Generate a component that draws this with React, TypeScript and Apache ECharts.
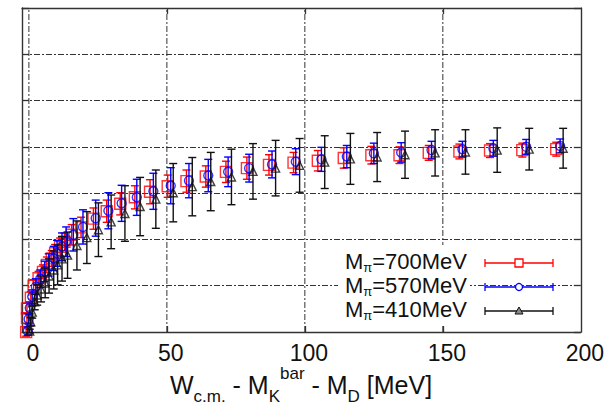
import React, { useEffect, useRef } from "react";
import * as echarts from "echarts";

// x-axis tick labels
const xTickValues = [0, 50, 100, 150, 200];
const xGridValues = [0, 50, 100, 150];

// M_pi = 700 MeV (red squares)
const x700 = [-1.0, -0.7, -0.7, 0.7, 1.7, 3.5, 5.1, 6.5, 8.3, 9.5, 11.3, 12.9, 15.5, 18.9, 23.4, 28.2, 33.1, 38.4, 43.9, 50.3, 57.1, 64.1, 71.4, 79.0, 87.0, 95.9, 104.7, 114.1, 124.1, 134.3, 144.9, 156.0, 167.1, 178.8, 191.1];
const y700 = [0.0, 0.3, 0.51, 0.74, 1.0, 1.16, 1.3, 1.45, 1.59, 1.7, 1.84, 1.95, 2.1, 2.26, 2.45, 2.61, 2.77, 2.91, 3.03, 3.15, 3.26, 3.36, 3.46, 3.54, 3.61, 3.66, 3.7, 3.76, 3.82, 3.82, 3.87, 3.9, 3.92, 3.93, 3.95];
const e700 = [0.09, 0.11, 0.11, 0.13, 0.13, 0.15, 0.15, 0.17, 0.17, 0.19, 0.19, 0.19, 0.22, 0.22, 0.23, 0.24, 0.24, 0.25, 0.26, 0.24, 0.24, 0.23, 0.23, 0.24, 0.22, 0.22, 0.22, 0.22, 0.19, 0.18, 0.16, 0.16, 0.15, 0.15, 0.15];

// M_pi = 570 MeV (blue circles)
const x570 = [-0.4, -0.1, 0.3, 1.2, 2.5, 4.1, 5.7, 7.2, 9.0, 10.2, 12.0, 13.5, 16.1, 19.6, 24.2, 28.8, 33.6, 39.1, 45.1, 51.4, 58.0, 65.0, 72.2, 79.8, 88.1, 96.7, 106.0, 115.2, 125.0, 134.9, 145.9, 157.1, 168.3, 180.2, 192.5];
const y570 = [0.02, 0.28, 0.52, 0.76, 0.98, 1.15, 1.31, 1.45, 1.59, 1.7, 1.84, 1.95, 2.1, 2.27, 2.46, 2.62, 2.78, 2.91, 3.04, 3.16, 3.27, 3.38, 3.46, 3.54, 3.62, 3.68, 3.73, 3.79, 3.86, 3.88, 3.93, 3.95, 3.97, 4.0, 4.02];
const e570 = [0.09, 0.11, 0.13, 0.15, 0.17, 0.19, 0.22, 0.24, 0.26, 0.28, 0.3, 0.32, 0.35, 0.37, 0.39, 0.39, 0.39, 0.39, 0.39, 0.39, 0.37, 0.35, 0.32, 0.3, 0.29, 0.28, 0.26, 0.24, 0.22, 0.21, 0.19, 0.17, 0.17, 0.16, 0.15];

// M_pi = 410 MeV (black triangles)
const x410 = [0.3, 0.65, 1.2, 2.1, 3.0, 4.4, 5.9, 7.3, 9.0, 10.4, 12.0, 14.0, 17.4, 21.0, 25.2, 29.8, 34.8, 40.3, 46.0, 52.3, 59.2, 65.9, 73.4, 81.2, 89.4, 98.1, 107.2, 116.5, 126.2, 136.3, 147.2, 158.2, 169.7, 181.3, 193.6];
const y410 = [0.02, 0.22, 0.43, 0.65, 0.8, 0.93, 1.06, 1.21, 1.34, 1.45, 1.58, 1.66, 1.87, 2.04, 2.21, 2.38, 2.56, 2.71, 2.87, 3.01, 3.14, 3.25, 3.35, 3.47, 3.54, 3.6, 3.67, 3.74, 3.78, 3.83, 3.87, 3.89, 3.93, 3.95, 3.97];
const e410 = [0.04, 0.09, 0.13, 0.17, 0.22, 0.28, 0.32, 0.37, 0.41, 0.43, 0.48, 0.5, 0.53, 0.56, 0.58, 0.58, 0.6, 0.63, 0.63, 0.63, 0.63, 0.63, 0.6, 0.6, 0.6, 0.58, 0.57, 0.55, 0.53, 0.51, 0.5, 0.48, 0.48, 0.45, 0.43];

const legendLabels = ["700MeV", "570MeV", "410MeV"];
const RED = "#ff0000";
const BLUE = "#0000ff";
const BLACK = "#111111";
const FONT = "'Liberation Sans', Arial, Helvetica, sans-serif";
const GRID_DASH = [6, 2, 2, 2];

const errRender = (color: string) => (params: any, api: any) => {
  const x = api.value(0);
  const y = api.value(1);
  const e = api.value(2);
  const top = api.coord([x, y + e]);
  const bot = api.coord([x, y - e]);
  const cw = 4;
  const style = { stroke: color, lineWidth: 1.4, fill: null };
  return {
    type: "group",
    children: [
      { type: "line", shape: { x1: top[0], y1: top[1], x2: bot[0], y2: bot[1] }, style },
      { type: "line", shape: { x1: top[0] - cw, y1: top[1], x2: top[0] + cw, y2: top[1] }, style },
      { type: "line", shape: { x1: bot[0] - cw, y1: bot[1], x2: bot[0] + cw, y2: bot[1] }, style },
    ],
  };
};

const zip3 = (xs: number[], ys: number[], es: number[]) => xs.map((x, i) => [x, ys[i], es[i]]);

export default function App() {
  const ref = useRef<HTMLDivElement>(null);
  useEffect(() => {
    if (!ref.current) return;
    const chart = echarts.init(ref.current, undefined, { renderer: "svg" });

    const sets = [
      { xs: x700, ys: y700, es: e700, color: RED, symbol: "rect", size: 11 },
      { xs: x570, ys: y570, es: e570, color: BLUE, symbol: "circle", size: 9 },
      { xs: x410, ys: y410, es: e410, color: BLACK, symbol: "triangle", size: 8 },
    ];

    const series: any[] = [
      {
        type: "custom",
        z: 1,
        silent: true,
        data: xGridValues.map((v) => [v]),
        renderItem: (params: any, api: any) => {
          const v = api.value(0);
          const a = api.coord([v, 0]);
          const b = api.coord([v, 7]);
          return {
            type: "line",
            shape: { x1: a[0], y1: a[1], x2: b[0], y2: b[1] },
            style: { stroke: "#333", lineWidth: 1, lineDash: GRID_DASH, fill: null },
          };
        },
      },
    ];
    sets.forEach((s, i) => {
      series.push({
        type: "custom",
        z: 3 + i * 2,
        silent: true,
        data: zip3(s.xs, s.ys, s.es),
        encode: { x: 0, y: 1 },
        renderItem: errRender(s.color),
      });
      series.push({
        type: "scatter",
        z: 4 + i * 2,
        silent: true,
        symbol: s.symbol,
        symbolSize: s.size,
        data: s.xs.map((x, k) => [x, s.ys[k]]),
        itemStyle: { color: "rgba(0,0,0,0)", borderColor: s.color, borderWidth: 1.4 },
      });
    });

    const legendY = [263, 287, 311];
    const lx1 = 485;
    const lx2 = 553;
    const lmid = (lx1 + lx2) / 2;
    const graphics: any[] = [
      {
        type: "rect",
        z: 20,
        shape: { x: 338, y: 245, width: 132, height: 80 },
        style: { fill: "#fff" },
      },
    ];
    sets.forEach((s, i) => {
      const y = legendY[i];
      graphics.push({
        type: "text",
        z: 21,
        x: 467,
        y: y - 2,
        style: {
          text: `{m|M}{s|π}{m|=${legendLabels[i]}}`,
          align: "right",
          verticalAlign: "middle",
          fill: "#111",
          rich: {
            m: { fontSize: 22, fontFamily: FONT, lineHeight: 25, verticalAlign: "middle", fill: "#111" },
            s: { fontSize: 13, fontFamily: FONT, lineHeight: 13, verticalAlign: "bottom", fill: "#111" },
          },
        },
      });
      const st = { stroke: s.color, lineWidth: 1.3 };
      graphics.push({ type: "line", z: 21, shape: { x1: lx1, y1: y, x2: lx2, y2: y }, style: st });
      graphics.push({ type: "line", z: 21, shape: { x1: lx1, y1: y - 4, x2: lx1, y2: y + 4 }, style: st });
      graphics.push({ type: "line", z: 21, shape: { x1: lx2, y1: y - 4, x2: lx2, y2: y + 4 }, style: st });
      if (s.symbol === "rect") {
        graphics.push({ type: "rect", z: 22, shape: { x: lmid - 4, y: y - 4, width: 8, height: 8 }, style: { fill: "#fff", stroke: s.color, lineWidth: 1.3 } });
      } else if (s.symbol === "circle") {
        graphics.push({ type: "circle", z: 22, shape: { cx: lmid, cy: y, r: 3.5 }, style: { fill: "#fff", stroke: s.color, lineWidth: 1.3 } });
      } else {
        graphics.push({ type: "polygon", z: 22, shape: { points: [[lmid, y - 4], [lmid - 4, y + 3], [lmid + 4, y + 3]] }, style: { fill: "#888", stroke: s.color, lineWidth: 1 } });
      }
    });
    graphics.push({
      type: "text",
      z: 21,
      x: 301,
      y: 385,
      style: {
        text: "{m|W}{s|c.m.}{m| - M}{s|K}{p|bar}{m| - M}{s|D}{m| [MeV]}",
        align: "center",
        verticalAlign: "middle",
        fill: "#111",
        rich: {
          m: { fontSize: 25, fontFamily: FONT, lineHeight: 40, verticalAlign: "middle", fill: "#111" },
          s: { fontSize: 17, fontFamily: FONT, lineHeight: 17, verticalAlign: "bottom", fill: "#111" },
          p: { fontSize: 17, fontFamily: FONT, lineHeight: 17, verticalAlign: "top", fill: "#111" },
        },
      },
    });

    const axisLine = { show: true, lineStyle: { color: "#333", width: 1.4 } };

    chart.setOption({
      animation: false,
      backgroundColor: "#fff",
      grid: { left: 22, right: 25, top: 8, bottom: 77, containLabel: false },
      xAxis: [
        {
          type: "value",
          position: "bottom",
          min: -2.5,
          max: 200,
          axisLine: { ...axisLine, onZero: false },
          axisTick: { show: true, inside: true, length: 6, customValues: [50, 100, 150], lineStyle: { color: "#333", width: 1.3 } },
          axisLabel: {
            show: true,
            customValues: xTickValues,
            fontSize: 23,
            fontFamily: FONT,
            color: "#111",
            margin: 9,
            padding: [0, 0, 0, 8],
          },
          splitLine: { show: false },
        },
        {
          type: "value",
          position: "top",
          min: -2.5,
          max: 200,
          axisLine: { ...axisLine, onZero: false },
          axisTick: { show: true, inside: true, length: 6, customValues: [50, 100, 150], lineStyle: { color: "#333", width: 1.3 } },
          axisLabel: { show: false },
          splitLine: { show: false },
        },
      ],
      yAxis: [
        {
          type: "value",
          position: "left",
          min: 0,
          max: 7,
          interval: 1,
          axisLine: { ...axisLine, onZero: false },
          axisTick: { show: true, inside: true, length: 7, lineStyle: { color: "#333", width: 1.3 } },
          axisLabel: { show: false },
          splitLine: { show: true, lineStyle: { color: "#333", width: 1, type: GRID_DASH } },
        },
        {
          type: "value",
          position: "right",
          min: 0,
          max: 7,
          interval: 1,
          axisLine: { ...axisLine, onZero: false },
          axisTick: { show: true, inside: true, length: 7, lineStyle: { color: "#333", width: 1.3 } },
          axisLabel: { show: false },
          splitLine: { show: false },
        },
      ],
      series,
      graphic: graphics,
    });
    return () => chart.dispose();
  }, []);
  return (
    <div
      ref={ref}
      style={{ position: "absolute", left: 0, top: 0, width: 607, height: 409, background: "#fff" }}
    />
  );
}
